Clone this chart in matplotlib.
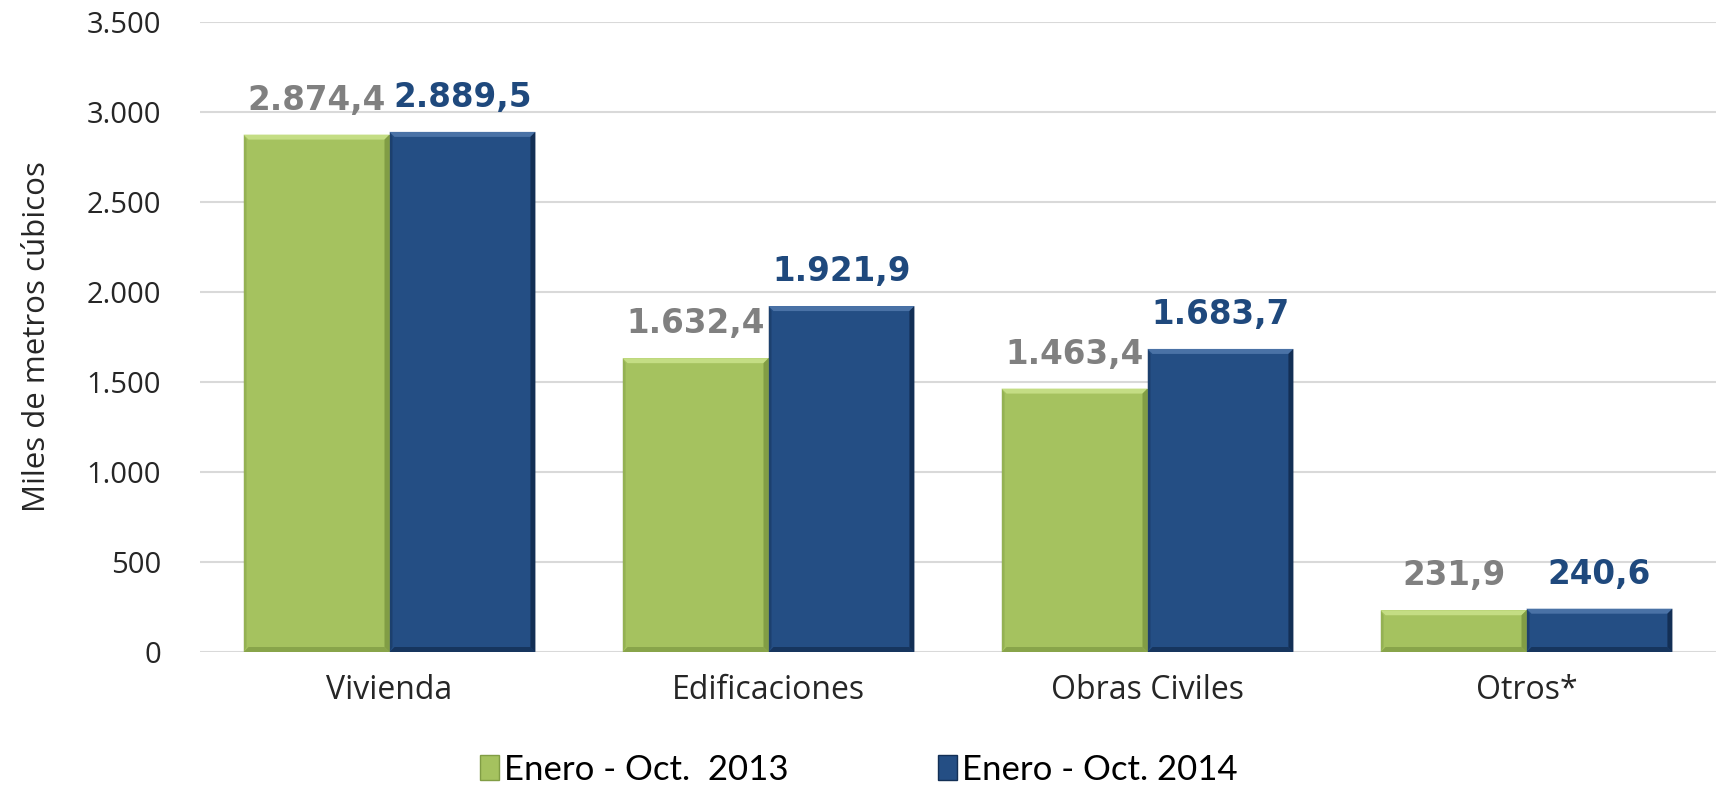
import numpy as np
import matplotlib.pyplot as plt
from matplotlib.patches import Polygon, Patch

# data
categories = ['Vivienda', 'Edificaciones', 'Obras Civiles', 'Otros*']
vals_2013 = [2874.4, 1632.4, 1463.4, 231.9]
vals_2014 = [2889.5, 1921.9, 1683.7, 240.6]
series_names = ['Enero - Oct.  2013', 'Enero - Oct. 2014']
yticks = [0, 500, 1000, 1500, 2000, 2500, 3000, 3500]


def fmt_es(v, dec=1):
    s = f"{v:,.{dec}f}"
    return s.replace(',', 'X').replace('.', ',').replace('X', '.')


GREEN = '#A5C25F'
GREEN_HI = '#C4DD84'
GREEN_SH = '#819D45'
BLUE = '#244E84'
BLUE_HI = '#4A72A6'
BLUE_SH = '#132F55'
LBL_GREY = '#808080'
LBL_BLUE = '#1F497D'

W, H = 1721, 791
fig = plt.figure(figsize=(W / 100, H / 100), dpi=100)
ax = fig.add_axes([200 / W, (H - 652) / H, 1516 / W, 630 / H])

x = np.arange(len(categories))
width = 0.385
ax.set_xlim(-0.5, len(categories) - 0.5)
ax.set_ylim(0, 3500)

bars1 = ax.bar(x - width / 2, vals_2013, width, color=GREEN, zorder=3)
bars2 = ax.bar(x + width / 2, vals_2014, width, color=BLUE, zorder=3)

# bevel size: about 5 px in data units
p0 = ax.transData.transform((0, 0))
p1 = ax.transData.transform((1, 1000))
bx = 5 / (p1[0] - p0[0])
by = 5 / ((p1[1] - p0[1]) / 1000)


def add_bevel(rect, hi, sh):
    x0 = rect.get_x()
    x1 = x0 + rect.get_width()
    y1 = rect.get_height()
    y0 = 0
    top = [(x0, y1), (x1, y1), (x1 - bx, y1 - by), (x0 + bx, y1 - by)]
    left = [(x0, y0), (x0, y1), (x0 + bx * 0.6, y1 - by), (x0 + bx * 0.6, y0 + by)]
    right = [(x1, y0), (x1, y1), (x1 - bx, y1 - by), (x1 - bx, y0 + by)]
    bottom = [(x0, y0), (x1, y0), (x1 - bx, y0 + by), (x0 + bx, y0 + by)]
    for pts, c, a in [(top, hi, 1), (left, sh, 0.45), (right, sh, 1), (bottom, sh, 0.8)]:
        ax.add_patch(Polygon(pts, closed=True, facecolor=c, edgecolor='none', alpha=a, zorder=4))


for r in bars1:
    add_bevel(r, GREEN_HI, GREEN_SH)
for r in bars2:
    add_bevel(r, BLUE_HI, BLUE_SH)

# value labels
for r, v in zip(bars1, vals_2013):
    ax.annotate(fmt_es(v), xy=(r.get_x() + r.get_width() / 2, v), xytext=(0, 13),
                textcoords='offset points', ha='center', va='bottom',
                fontsize=23.5, fontweight='bold', color=LBL_GREY, family='DejaVu Sans')
for r, v in zip(bars2, vals_2014):
    ax.annotate(fmt_es(v), xy=(r.get_x() + r.get_width() / 2, v), xytext=(0, 13),
                textcoords='offset points', ha='center', va='bottom',
                fontsize=23.5, fontweight='bold', color=LBL_BLUE, family='DejaVu Sans')

# axes styling
ax.set_yticks(yticks)
ax.set_yticklabels([fmt_es(t, 0) for t in yticks], fontsize=21, color='#262626', family='Open Sans')
ax.set_xticks(x)
ax.set_xticklabels(categories, fontsize=23, color='#262626', family='Open Sans')
ax.tick_params(axis='y', length=0, pad=28)
ax.tick_params(axis='x', length=0, pad=16)
ax.grid(axis='y', color='#D9D9D9', linewidth=1.5, zorder=0)
ax.set_axisbelow(True)
for s in ax.spines.values():
    s.set_visible(False)

ax.set_ylabel('Miles de metros cúbicos', fontsize=22.5, color='#262626', family='Open Sans', labelpad=25)

handles = [Patch(facecolor=GREEN, edgecolor=GREEN_SH), Patch(facecolor=BLUE, edgecolor=BLUE_SH)]
fig.legend(handles, series_names, loc='center', bbox_to_anchor=(0.499, 0.027), ncol=2,
           frameon=False, handlelength=0.55, handleheight=0.75, handletextpad=0.15,
           columnspacing=4.3, prop={'family': 'Lato', 'size': 25})

fig.savefig('out.png', dpi=100)
